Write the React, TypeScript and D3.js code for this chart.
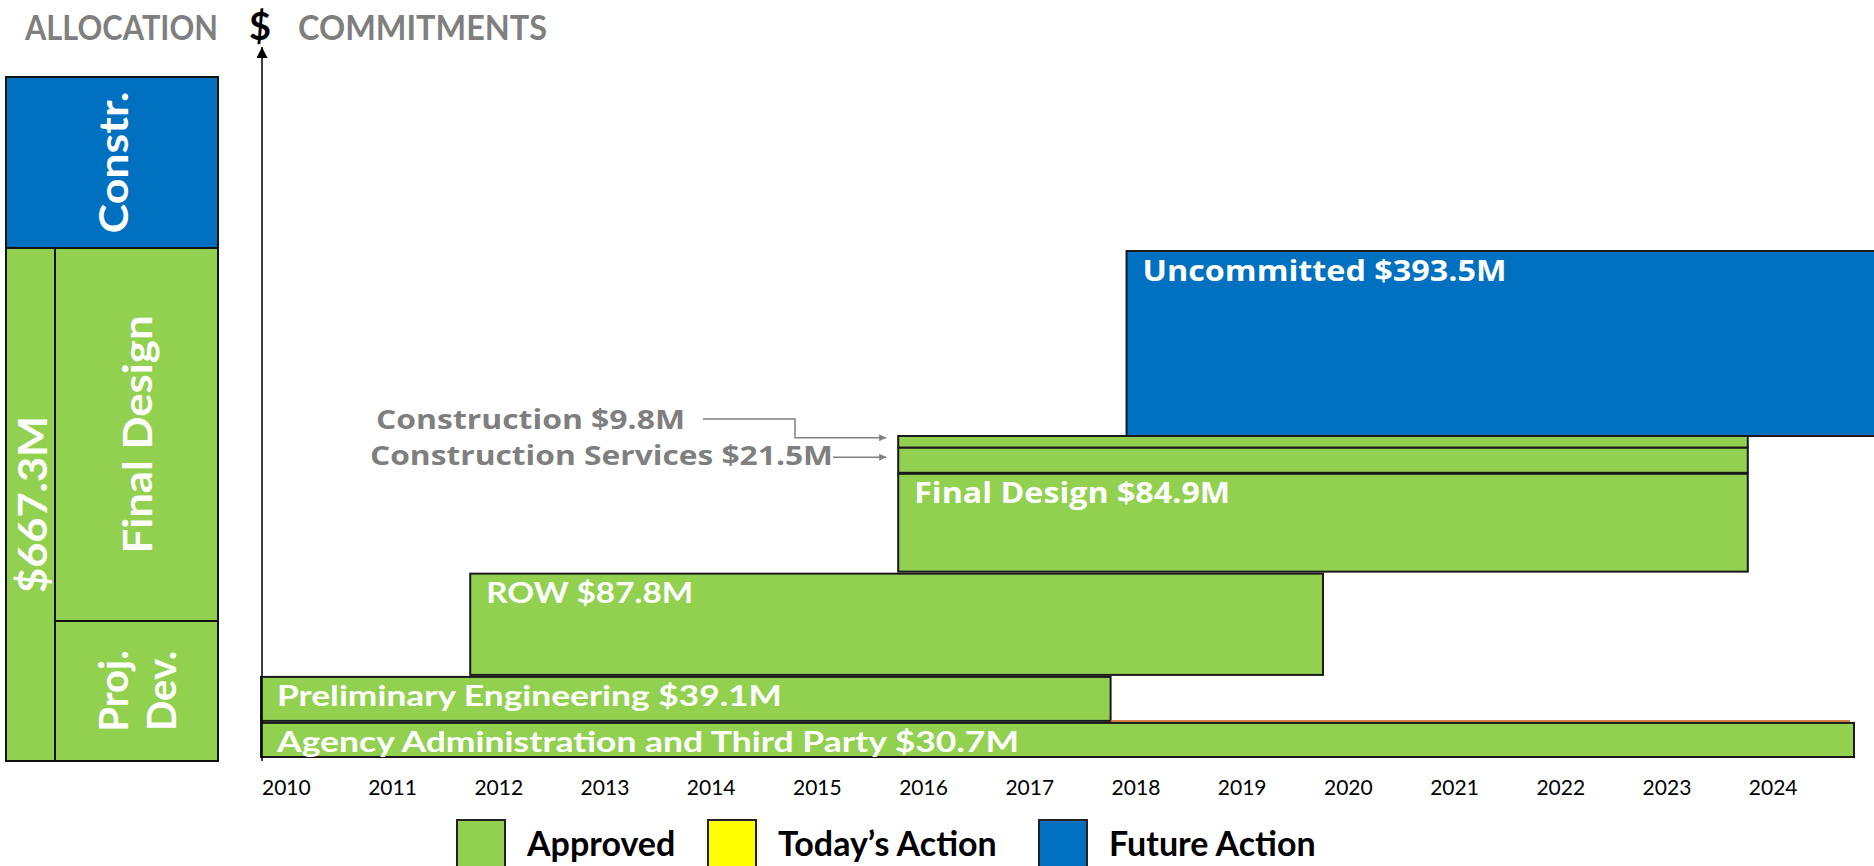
import React from "react";
import * as d3 from "d3";

// ---------- data ----------
const yearTicks = [2010, 2011, 2012, 2013, 2014, 2015, 2016, 2017, 2018, 2019, 2020, 2021, 2022, 2023, 2024];

const commitNames = [
  "Agency Administration and Third Party",
  "Preliminary Engineering",
  "ROW",
  "Final Design",
  "Construction Services",
  "Construction",
  "Uncommitted",
];
const commitAmounts = [30.7, 39.1, 87.8, 84.9, 21.5, 9.8, 393.5];
const commitStart = [2010, 2010, 2011.97, 2016, 2016, 2016, 2018.15];
const commitEnd = [2025, 2018, 2020, 2024, 2024, 2024, 2026];
const commitStatus = ["Approved", "Approved", "Approved", "Approved", "Approved", "Approved", "Future Action"];

const allocationNames = ["Proj. Dev.", "Final Design", "Constr."];
const allocationAmounts = [136.6, 363.9, 166.8];
const allocationStatus = ["Approved", "Approved", "Future Action"];
const allocationTotal = 667.3;

const legendLabels = ["Approved", "Today\u2019s Action", "Future Action"];
const legendColors = ["#92D050", "#FFFF00", "#0070C0"];

// ---------- helpers ----------
const colorOf = d3.scaleOrdinal<string, string>().domain(legendLabels).range(legendColors);
const CAL = "Lato, 'Open Sans', sans-serif";
const SEG = "'Open Sans', Lato, sans-serif";
const fmt = (v: number) => `$${v.toFixed(1)}M`;

export default function App() {
  const cum: number[] = [];
  commitAmounts.reduce((acc, v) => {
    cum.push(acc);
    return acc + v;
  }, 0);
  const committedTop = cum[6];
  const total = d3.sum(commitAmounts);

  const x = d3.scaleLinear().domain([2010, 2025]).range([261, 1854]);
  const y = d3.scaleLinear().domain([0, committedTop, total]).range([758, 436, 251]);

  const ay = d3.scaleLinear().domain([0, allocationTotal]).range([761, 77]);
  const aCum: number[] = [];
  allocationAmounts.reduce((acc, v) => {
    aCum.push(acc);
    return acc + v;
  }, 0);
  const panelL = 6, panelR = 218, colR = 55;
  const approvedTotal = allocationAmounts[0] + allocationAmounts[1];

  const bars = commitNames.map((name, i) => ({
    name,
    amount: commitAmounts[i],
    x0: x(commitStart[i]),
    x1: x(commitEnd[i]),
    yTop: y(cum[i] + commitAmounts[i]),
    yBot: y(cum[i]),
    color: colorOf(commitStatus[i]),
  }));

  const labelWidths: Record<string, number> = {
    "Agency Administration and Third Party": 742,
    "Preliminary Engineering": 505,
    ROW: 207,
    "Final Design": 316,
    Uncommitted: 364,
  };
  const labelFonts: Record<string, string> = {
    "Agency Administration and Third Party": CAL,
    "Preliminary Engineering": CAL,
    ROW: CAL,
    "Final Design": SEG,
    Uncommitted: SEG,
  };

  const cBar = bars[5];
  const csBar = bars[4];
  const arrowTipX = x(2016) - 12;
  const a1y = (cBar.yTop + cBar.yBot) / 2 - 4;
  const a2y = (csBar.yTop + csBar.yBot) / 2 - 3;

  const legendBoxX = [457, 708, 1039];

  return (
    <svg width={1874} height={866} style={{ position: "absolute", left: 0, top: 0, background: "#fff" }}>
      <defs>
        <marker id="garrow" viewBox="0 0 10 10" refX="10" refY="5" markerWidth="7" markerHeight="7" markerUnits="userSpaceOnUse" orient="auto">
          <path d="M0,0 L10,5 L0,10 z" fill="#808080" />
        </marker>
        <marker id="karrow" viewBox="0 0 10 10" refX="10" refY="5" markerWidth="11" markerHeight="11" markerUnits="userSpaceOnUse" orient="auto">
          <path d="M0,0 L10,5 L0,10 z" fill="#000" />
        </marker>
      </defs>

      {/* titles */}
      <text x={25} y={40} fontFamily={CAL} fontWeight={700} fontSize={34} fill="#7F7F7F" textLength={193} lengthAdjust="spacingAndGlyphs">ALLOCATION</text>
      <text x={249} y={40} fontFamily={CAL} fontWeight={700} fontSize={38} fill="#000">$</text>
      <text x={298} y={40} fontFamily={CAL} fontWeight={700} fontSize={34} fill="#7F7F7F" textLength={249} lengthAdjust="spacingAndGlyphs">COMMITMENTS</text>

      {/* allocation panel */}
      <g>
        {allocationNames.map((n, i) => {
          const top = ay(aCum[i] + allocationAmounts[i]);
          const bot = ay(aCum[i]);
          const isConstr = allocationStatus[i] === "Future Action";
          const x0 = isConstr ? panelL : colR;
          return (
            <rect key={n} x={x0} y={top} width={panelR - x0} height={bot - top} fill={colorOf(allocationStatus[i])} stroke="#111" strokeWidth={2} />
          );
        })}
        <rect x={panelL} y={ay(approvedTotal)} width={colR - panelL} height={ay(0) - ay(approvedTotal)} fill={colorOf("Approved")} stroke="#111" strokeWidth={2} />
        <text transform={`translate(${(panelL + colR) / 2 + 1},${(ay(0) + ay(approvedTotal)) / 2}) rotate(-90)`} textAnchor="middle" dominantBaseline="central" fontFamily={CAL} fontWeight={700} fontSize={40} fill="#fff" textLength={177} lengthAdjust="spacingAndGlyphs">
          {fmt(allocationTotal)}
        </text>
        <text transform={`translate(${(panelL + panelR) / 2 + 1},${(ay(aCum[2]) + ay(allocationTotal)) / 2}) rotate(-90)`} textAnchor="middle" dominantBaseline="central" fontFamily={CAL} fontWeight={700} fontSize={40} fill="#fff" textLength={142} lengthAdjust="spacingAndGlyphs">
          {allocationNames[2]}
        </text>
        <text transform={`translate(${(colR + panelR) / 2},${(ay(aCum[1]) + ay(aCum[2])) / 2}) rotate(-90)`} textAnchor="middle" dominantBaseline="central" fontFamily={CAL} fontWeight={700} fontSize={40} fill="#fff" textLength={238} lengthAdjust="spacingAndGlyphs">
          {allocationNames[1]}
        </text>
        {allocationNames[0].split(" ").map((part, j) => (
          <text key={part} transform={`translate(${(colR + panelR) / 2 + (j === 0 ? -24 : 24)},${(ay(0) + ay(aCum[1])) / 2}) rotate(-90)`} textAnchor="middle" dominantBaseline="central" fontFamily={CAL} fontWeight={700} fontSize={40} fill="#fff">
            {part}
          </text>
        ))}
      </g>

      {/* commitment bars */}
      <g>
        {bars.map((b, i) => (
          <rect key={b.name} x={b.x0} y={b.yTop + (i < 4 ? 1 : 0)} width={b.x1 - b.x0} height={b.yBot - b.yTop - (i < 4 ? 2 : 0)} fill={b.color} stroke="#1a1a1a" strokeWidth={2} />
        ))}
        <line x1={x(2018)} x2={x(2025) - 4} y1={bars[0].yTop - 1} y2={bars[0].yTop - 1} stroke="#C55A11" strokeWidth={1.5} />
        {bars
          .filter((b) => labelWidths[b.name] !== undefined)
          .map((b) => (
            <text key={b.name + "l"} x={b.x0 + 16} y={b.yTop + 30} fontFamily={labelFonts[b.name]} fontWeight={700} fontSize={28} fill="#fff" textLength={labelWidths[b.name]} lengthAdjust="spacingAndGlyphs">
              {`${b.name} ${fmt(b.amount)}`}
            </text>
          ))}
      </g>

      {/* annotations for the thin bars */}
      <text x={376} y={429} fontFamily={SEG} fontWeight={700} fontSize={26} fill="#7F7F7F" textLength={309} lengthAdjust="spacingAndGlyphs">
        {`${cBar.name} ${fmt(cBar.amount)}`}
      </text>
      <text x={370} y={465} fontFamily={SEG} fontWeight={700} fontSize={26} fill="#7F7F7F" textLength={463} lengthAdjust="spacingAndGlyphs">
        {`${csBar.name} ${fmt(csBar.amount)}`}
      </text>
      <path d={`M703,${419} H795 V${a1y} H${arrowTipX}`} fill="none" stroke="#808080" strokeWidth={1.5} markerEnd="url(#garrow)" />
      <path d={`M833,${a2y} H${arrowTipX}`} fill="none" stroke="#808080" strokeWidth={1.5} markerEnd="url(#garrow)" />

      {/* vertical $ axis */}
      <line x1={262} x2={262} y1={761} y2={47} stroke="#000" strokeWidth={1.5} markerEnd="url(#karrow)" />

      {/* year axis labels */}
      {yearTicks.map((yr) => (
        <text key={yr} x={x(yr) + 1} y={795} fontFamily={CAL} fontSize={21} fill="#000">
          {yr}
        </text>
      ))}

      {/* legend */}
      {legendLabels.map((l, i) => (
        <g key={l}>
          <rect x={legendBoxX[i]} y={820} width={48} height={52} fill={legendColors[i]} stroke="#222" strokeWidth={2} />
          <text x={legendBoxX[i] + 70} y={856} fontFamily={CAL} fontWeight={700} fontSize={34} fill="#000">
            {l}
          </text>
        </g>
      ))}
    </svg>
  );
}
